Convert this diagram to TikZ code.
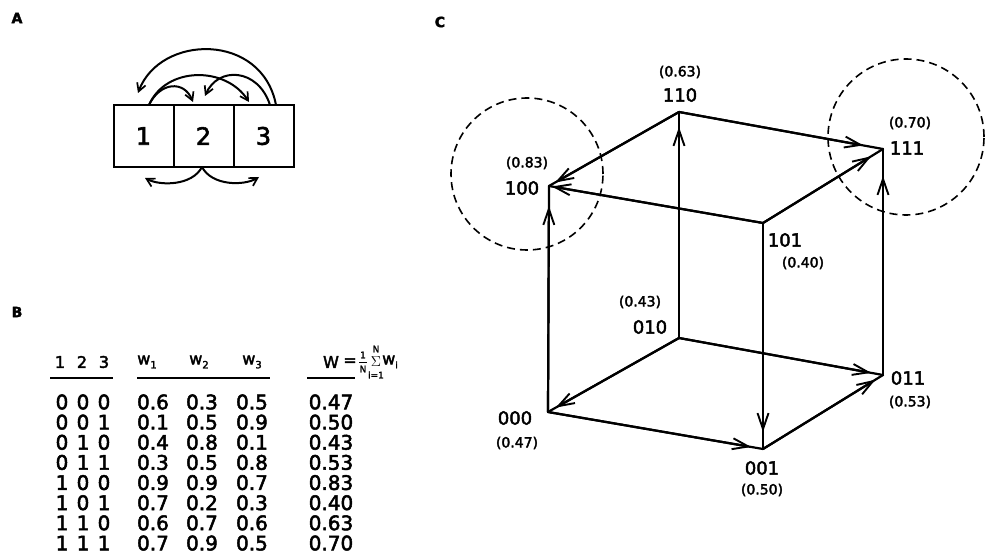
\documentclass[tikz,border=0pt]{standalone}
\usepackage{fontspec}
\setmainfont{DejaVu Sans}[FakeBold=2.5]
\usetikzlibrary{arrows.meta,calc}
\begin{document}
\begin{tikzpicture}[x=1pt,y=-1pt,
  cubeline/.style={line width=2.2pt, line cap=round, line join=round},
  cubearrow/.style={line width=2.2pt, line cap=round, -{Straight Barb[length=16pt,width=11pt,line width=1.9pt]}},
  boxstyle/.style={draw, line width=2pt, minimum width=60pt, minimum height=62pt, inner sep=0pt, outer sep=0pt, font=\fontsize{24}{24}\selectfont},
  arcline/.style={line width=2pt, line cap=round, -{Straight Barb[length=8pt,width=9pt,line width=1.7pt]}},
  biglab/.style={font=\fontsize{18}{18}\selectfont, inner sep=0pt},
  smalllab/.style={font=\fontsize{14}{14}\selectfont, inner sep=0pt},
  tablab/.style={font=\fontsize{20}{20}\selectfont, inner sep=0pt},
  headlab/.style={font=\fontsize{16}{16}\selectfont, inner sep=0pt},
  tinylab/.style={font=\fontsize{9}{9}\selectfont, inner sep=0pt},
  panel/.style={font=\bfseries\fontsize{14}{14}\selectfont, inner sep=0pt},
  ring/.style={draw, circle, dash pattern=on 8pt off 5pt, line width=1.6pt, inner sep=0pt},
  rule/.style={line width=2pt}
]
\useasboundingbox (0,0) rectangle (988,556);

% panel letters
\node[panel] (pA) at (17,18) {A};
\node[panel] (pB) at (17,312) {B};
\node[panel] (pC) at (440,22) {C};

% ---------------- A ----------------
\node[boxstyle] (b1) at (143.5,136) {1};
\node[boxstyle] (b2) at (203.5,136) {2};
\node[boxstyle] (b3) at (263.5,136) {3};
\coordinate (s3) at (276,105);
\coordinate (s3b) at (270,105);
\coordinate (s1) at (149,105);
\coordinate (t1) at (138,93);
\coordinate (t12) at (193,102);
\coordinate (t32) at (205,96);
\coordinate (t13) at (249,102);
\coordinate (sb) at (202,167);
\coordinate (tb1) at (145,178);
\coordinate (tb3) at (259,177);
\draw[arcline] (s3) .. controls (262,32) and (160,34) .. (t1);
\draw[arcline] (s1) .. controls (166,66) and (226,66) .. (t13);
\draw[arcline] (s3b) .. controls (258,68) and (218,66) .. (t32);
\draw[arcline] (s1) .. controls (160,82) and (184,80) .. (t12);
\draw[arcline] (sb) .. controls (192,186) and (160,186) .. (tb1);
\draw[arcline] (sb) .. controls (212,186) and (244,186) .. (tb3);

% ---------------- B ----------------
\node[headlab] (h1) at (60,362) {1};
\node[headlab] (h2) at (82,362) {2};
\node[headlab] (h3) at (104,362) {3};
\node[headlab] (hw1) at (147,362) {w\raisebox{-4pt}{\fontsize{10}{10}\selectfont 1}};
\node[headlab] (hw2) at (199,362) {w\raisebox{-4pt}{\fontsize{10}{10}\selectfont 2}};
\node[headlab] (hw3) at (252,362) {w\raisebox{-4pt}{\fontsize{10}{10}\selectfont 3}};
\node[headlab] (hW) at (331,362) {W};
\node[headlab] (heq) at (350,362) {=};
\node[tinylab] (hf1) at (363,355) {1};
\draw[line width=0.8pt] (359,362) -- (367,362);
\node[tinylab] (hfN) at (363,369) {N};
\node[tinylab] (hsN) at (376,349) {N};
\node[font=\fontsize{14}{14}\selectfont, inner sep=0pt] (hsig) at (376,362) {$\Sigma$};
\node[tinylab] (hsi) at (376,375) {i=1};
\node[headlab] (hwi) at (390,362) {w\raisebox{-4pt}{\fontsize{9}{9}\selectfont i}};
\draw[rule] (50,378) -- (113,378);
\draw[rule] (137,378) -- (270,378);
\draw[rule] (307,378) -- (355,378);

\foreach \a/\b/\c/\wa/\wb/\wc/\W [count=\i from 0] in {
  0/0/0/0.6/0.3/0.5/0.47,
  0/0/1/0.1/0.5/0.9/0.50,
  0/1/0/0.4/0.8/0.1/0.43,
  0/1/1/0.3/0.5/0.8/0.53,
  1/0/0/0.9/0.9/0.7/0.83,
  1/0/1/0.7/0.2/0.3/0.40,
  1/1/0/0.6/0.7/0.6/0.63,
  1/1/1/0.7/0.9/0.5/0.70}{
  \pgfmathsetmacro\yy{402+20.15*\i}
  \node[tablab] (ra\i) at (62,\yy) {\a};
  \node[tablab] (rb\i) at (83,\yy) {\b};
  \node[tablab] (rc\i) at (104,\yy) {\c};
  \node[tablab] (rw1\i) at (153,\yy) {\wa};
  \node[tablab] (rw2\i) at (202,\yy) {\wb};
  \node[tablab] (rw3\i) at (252,\yy) {\wc};
  \node[tablab] (rW\i) at (331,\yy) {\W};
}

% ---------------- C ----------------
\coordinate (c110) at (679,112);
\coordinate (c111) at (883,149);
\coordinate (c100) at (549,186);
\coordinate (c101) at (763,223);
\coordinate (c010) at (679,338);
\coordinate (c011) at (883,375);
\coordinate (c000) at (548,412);
\coordinate (c001) at (763,449);

\node[ring, minimum size=152pt] (ring100) at (527,174) {};
\node[ring, minimum size=156pt] (ring111) at (906,137) {};

\foreach \p/\q/\s in {c000/c100/20, c010/c110/15, c101/c001/17, c011/c111/27,
  c110/c100/7, c101/c100/3, c110/c111/20, c101/c111/14,
  c010/c000/9, c010/c011/12, c000/c001/12, c001/c011/9}{
  \draw[cubeline] (\p) -- (\q);
  \draw[cubearrow, shorten >=\s pt] (\p) -- (\q);
}

\node[smalllab] (v110) at (680,72) {(0.63)};
\node[biglab] (l110) at (680,95) {110};
\node[smalllab] (v111) at (910,123) {(0.70)};
\node[biglab] (l111) at (907,148) {111};
\node[smalllab] (v100) at (527,163) {(0.83)};
\node[biglab] (l100) at (522,188) {100};
\node[biglab] (l101) at (785,240) {101};
\node[smalllab] (v101) at (803,263) {(0.40)};
\node[smalllab] (v010) at (640,302) {(0.43)};
\node[biglab] (l010) at (650,327) {010};
\node[biglab] (l000) at (515,418) {000};
\node[smalllab] (v000) at (517,443) {(0.47)};
\node[biglab] (l001) at (762,468) {001};
\node[smalllab] (v001) at (762,490) {(0.50)};
\node[biglab] (l011) at (908,378) {011};
\node[smalllab] (v011) at (910,402) {(0.53)};
\end{tikzpicture}
\end{document}
